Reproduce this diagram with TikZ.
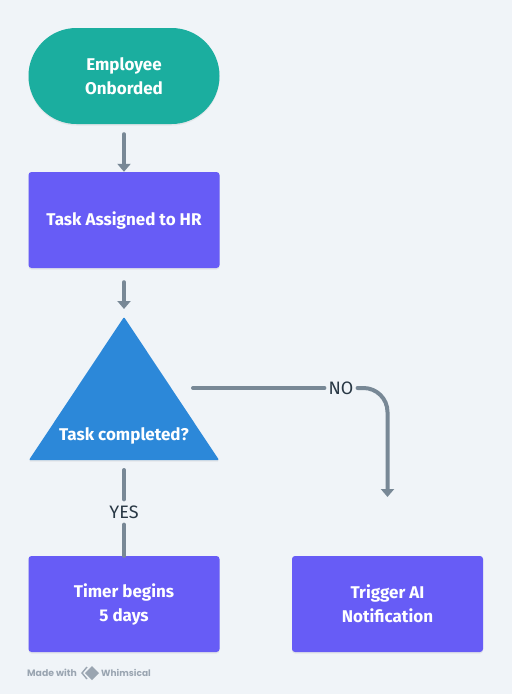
\documentclass[tikz,border=0pt]{standalone}
\usepackage{fontspec}
\setmainfont{Fira Sans}
\newfontfamily\logofont{Poppins}
\usetikzlibrary{
	arrows.meta,
	positioning,
	shadows
  }
\definecolor{pagebg}{HTML}{F0F4F8}
\definecolor{startcol}{HTML}{1BAE9F}
\definecolor{taskcol}{HTML}{675CF6}
\definecolor{askcol}{HTML}{2C88D9}
\definecolor{linecol}{HTML}{788896}
\definecolor{labelcol}{HTML}{293845}
\definecolor{logocol}{HTML}{9AA5B1}
\tikzstyle{softshadow}=[drop shadow={shadow xshift=0pt,shadow yshift=-1.5pt,opacity=.12}]
\tikzstyle{box}=[rectangle,minimum width=191pt,minimum height=96pt,align=center,text=white,font=\fontsize{17}{24}\selectfont\bfseries,inner sep=0pt]
\tikzstyle{taskbox}=[box,fill=taskcol,rounded corners=3pt,softshadow]
\tikzstyle{link}=[draw=linecol,line width=4pt,line cap=round]
\tikzstyle{arrowlink}=[link,-{Triangle[length=8pt,width=13pt]}]
\tikzstyle{linklabel}=[fill=pagebg,text=labelcol,font=\fontsize{18}{20}\selectfont,inner sep=6pt]

\begin{document}
\begin{tikzpicture}[x=1pt, y=-1pt]
	\useasboundingbox[fill=pagebg] (0,0) rectangle (512,694);
	\node[box, fill=startcol, rounded corners=47.9pt, softshadow] (start) at (124,76) {Employee\\Onborded};
	\node[taskbox] (assign) at (124,220) {Task Assigned to HR};
	\node[taskbox] (timer) at (124,604) {Timer begins\\5 days};
	\node[taskbox] (notify) at (387.5,604) {Trigger AI\\Notification};
	% decision triangle
	\coordinate (apex) at (124,317);
	\coordinate (baseleft) at (29,460);
	\coordinate (baseright) at (219,460);
	\coordinate (basemid) at (124,460);
	\fill[askcol, rounded corners=1pt, softshadow] (apex) -- (baseright) -- (baseleft) -- cycle;
	\node[text=white, font=\fontsize{17}{20}\selectfont\bfseries] (ask) at (124,436) {Task completed?};
	% connectors
	\draw[arrowlink, shorten <=10pt] (start.south) to (assign.north);
	\draw[arrowlink, shorten <=14pt, shorten >=8pt] (assign.south) to (apex);
	\node[linklabel] (yes) at (124,512) {YES};
	\draw[link, shorten <=10pt] (basemid) to (yes);
	\draw[link] (yes) to (timer.north);
	\coordinate (nostart) at (193,388);
	\coordinate (nobend) at (387.5,388);
	\coordinate (noend) at (387.5,497);
	\node[linklabel, inner sep=4pt] (no) at (341,388) {NO};
	\draw[link] (nostart) to (no);
	\draw[arrowlink, rounded corners=24pt] (no) -- (nobend) -- (noend);
	% footer
	\node[anchor=west, inner sep=0pt, text=logocol, font=\logofont\fontsize{9.3}{11}\selectfont\bfseries] (made) at (27,673) {Made with};
	\node[anchor=west, inner sep=0pt, text=logocol, font=\logofont\fontsize{9}{11}\selectfont\bfseries] (brand) at (101,673) {Whimsical};
	\fill[logocol] (92,666) -- (99,673) -- (92,680) -- (85,673) -- cycle;
	\draw[logocol, line width=1.4pt] (87,667) -- (82,673) -- (87,679);
\end{tikzpicture}
\end{document}
